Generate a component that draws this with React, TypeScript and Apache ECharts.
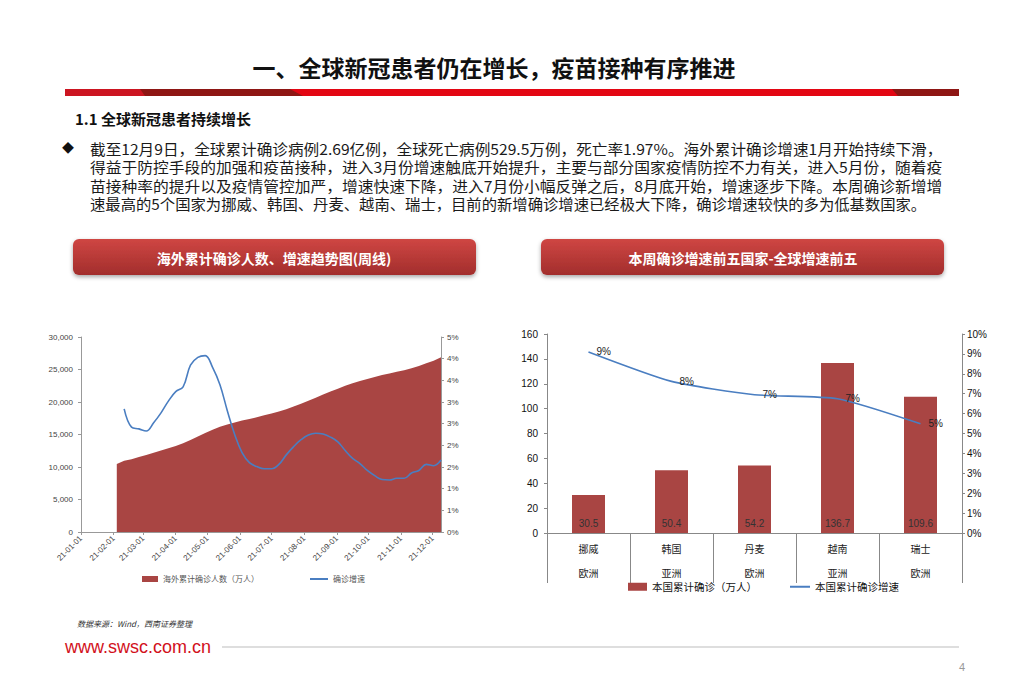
import React, { useEffect, useRef } from "react";
import * as echarts from "echarts";

// ---------- Data ----------
const weekDates = [
  "2021-02-04", "2021-02-11", "2021-02-18", "2021-02-25", "2021-03-04", "2021-03-11", "2021-03-18", "2021-03-25",
  "2021-04-01", "2021-04-08", "2021-04-15", "2021-04-22", "2021-04-29", "2021-05-06", "2021-05-13", "2021-05-20",
  "2021-05-27", "2021-06-03", "2021-06-10", "2021-06-17", "2021-06-24", "2021-07-01", "2021-07-08", "2021-07-15",
  "2021-07-22", "2021-07-29", "2021-08-05", "2021-08-12", "2021-08-19", "2021-08-26", "2021-09-02", "2021-09-09",
  "2021-09-16", "2021-09-23", "2021-09-30", "2021-10-07", "2021-10-14", "2021-10-21", "2021-10-28", "2021-11-04",
  "2021-11-11", "2021-11-18", "2021-11-25", "2021-12-02", "2021-12-09",
];
// 海外累计确诊人数（万人）
const overseasCumulative = [
  10450, 10950, 11200, 11550, 11850, 12200, 12550, 12900, 13250, 13650, 14150, 14700, 15250, 15750, 16200, 16550,
  16850, 17150, 17400, 17650, 17950, 18250, 18550, 18900, 19300, 19750, 20200, 20650, 21150, 21600, 22050, 22500,
  22900, 23250, 23550, 23850, 24150, 24400, 24650, 24900, 25200, 25550, 25950, 26350, 26900,
];
// 确诊增速 (%)
const overseasGrowth = [
  null, 2.84, 2.42, 2.38, 2.33, 2.52, 2.75, 3.02, 3.24, 3.35, 3.85, 4.03, 4.07, 3.8, 3.4, 2.8,
  2.25, 1.83, 1.6, 1.51, 1.46, 1.46, 1.56, 1.78, 1.97, 2.13, 2.24, 2.28, 2.26, 2.19, 2.08, 1.88,
  1.7, 1.58, 1.42, 1.3, 1.21, 1.2, 1.24, 1.24, 1.36, 1.42, 1.56, 1.53, 1.66,
];

const countries = ["挪威", "韩国", "丹麦", "越南", "瑞士"];
const regions = ["欧洲", "亚洲", "欧洲", "亚洲", "欧洲"];
const countryCumulative = [30.5, 50.4, 54.2, 136.7, 109.6];
const countryGrowth = [9.1, 7.62, 6.95, 6.75, 5.49];

const pageTitle = "一、全球新冠患者仍在增长，疫苗接种有序推进";
const sectionTitle = "1.1 全球新冠患者持续增长";
const paragraphLines = [
  "截至12月9日，全球累计确诊病例2.69亿例，全球死亡病例529.5万例，死亡率1.97%。海外累计确诊增速1月开始持续下滑，",
  "得益于防控手段的加强和疫苗接种，进入3月份增速触底开始提升，主要与部分国家疫情防控不力有关，进入5月份，随着疫",
  "苗接种率的提升以及疫情管控加严，增速快速下降，进入7月份小幅反弹之后，8月底开始，增速逐步下降。本周确诊新增增",
  "速最高的5个国家为挪威、韩国、丹麦、越南、瑞士，目前的新增确诊增速已经极大下降，确诊增速较快的多为低基数国家。",
];
const paragraphWidths = [853, 853, 853, 837];
const leftButtonText = "海外累计确诊人数、增速趋势图(周线)";
const rightButtonText = "本周确诊增速前五国家-全球增速前五";
const sourceText = "数据来源：Wind，西南证券整理";
const siteText = "www.swsc.com.cn";
const pageNumber = "4";

const leftLegend = ["海外累计确诊人数（万人）", "确诊增速"];
const rightLegend = ["本国累计确诊（万人）", "本国累计确诊增速"];

// ---------- Styles ----------
const CJK = '"Noto Sans CJK SC", "Noto Sans", sans-serif';
const LAT = '"Liberation Sans", Arial, "Noto Sans CJK SC", sans-serif';
const BAR_RED = "#A94543";
const LINE_BLUE = "#4A7EC1";
const PARA_FONT = `15px ${CJK}`;

function pad2(n: number) {
  return n < 10 ? "0" + n : "" + n;
}

function measure(text: string, font: string): number {
  try {
    const ctx = document.createElement("canvas").getContext("2d");
    if (!ctx) return 0;
    ctx.font = font;
    return ctx.measureText(text).width;
  } catch (e) {
    return 0;
  }
}

export default function App() {
  const ref = useRef<HTMLDivElement>(null);

  useEffect(() => {
    document.body.style.margin = "0";
    if (!ref.current) return;
    const chart = echarts.init(ref.current, undefined, { renderer: "svg" });

    const buttonFill = () =>
      new echarts.graphic.LinearGradient(0, 0, 0, 1, [
        { offset: 0, color: "#CF4643" },
        { offset: 1, color: "#A22E2C" },
      ]);

    const graphics: any[] = [
      {
        type: "text",
        x: 494,
        y: 67,
        style: {
          text: pageTitle,
          fill: "#111",
          font: `bold 23px ${CJK}`,
          textAlign: "center",
          textVerticalAlign: "middle",
        },
      },
      { type: "rect", shape: { x: 65, y: 89, width: 894, height: 7 }, style: { fill: "#E30613" } },
      { type: "rect", shape: { x: 65, y: 89, width: 80, height: 7 }, style: { fill: "#CC1521" } },
      {
        type: "polygon",
        shape: { points: [[140, 89], [290, 89], [303, 96], [145, 96]] },
        style: { fill: "#8E1614" },
      },
      {
        type: "polygon",
        shape: { points: [[892, 89], [959, 89], [959, 96], [898, 96]] },
        style: { fill: "#8E1614" },
      },
      {
        type: "text",
        x: 75,
        y: 118,
        style: { text: sectionTitle, fill: "#111", font: `bold 15px ${CJK}`, textVerticalAlign: "middle" },
      },
      {
        type: "text",
        x: 62,
        y: 147,
        style: { text: "◆", fill: "#111", font: `12px ${CJK}`, textVerticalAlign: "middle" },
      },
      ...paragraphLines.map((t, i) => {
        const w = measure(t, PARA_FONT);
        const s = w > 0 ? paragraphWidths[i] / w : 1;
        return {
          type: "text",
          x: 90,
          y: 148 + i * 18.5,
          scaleX: s,
          style: { text: t, fill: "#1a1a1a", font: PARA_FONT, lineHeight: 17, textVerticalAlign: "middle" },
        };
      }),
      {
        type: "rect",
        shape: { x: 73, y: 239, width: 403, height: 36, r: 6 },
        style: { fill: buttonFill(), shadowBlur: 4, shadowOffsetY: 2, shadowColor: "rgba(0,0,0,0.35)" },
      },
      {
        type: "text",
        x: 274,
        y: 258,
        style: { text: leftButtonText, fill: "#fff", font: `bold 14px ${CJK}`, textAlign: "center", textVerticalAlign: "middle" },
      },
      {
        type: "rect",
        shape: { x: 541, y: 239, width: 403, height: 36, r: 6 },
        style: { fill: buttonFill(), shadowBlur: 4, shadowOffsetY: 2, shadowColor: "rgba(0,0,0,0.35)" },
      },
      {
        type: "text",
        x: 743,
        y: 258,
        style: { text: rightButtonText, fill: "#fff", font: `bold 14px ${CJK}`, textAlign: "center", textVerticalAlign: "middle" },
      },
      {
        type: "text",
        x: 77,
        y: 623,
        style: { text: sourceText, fill: "#333", font: `italic 8px ${CJK}`, textVerticalAlign: "middle" },
      },
      {
        type: "text",
        x: 65,
        y: 647,
        style: { text: siteText, fill: "#D2101C", font: `18px "Liberation Sans", Arial, sans-serif`, textVerticalAlign: "middle" },
      },
      { type: "line", shape: { x1: 222, y1: 647, x2: 959, y2: 647 }, style: { stroke: "#BDBDBD", lineWidth: 1 } },
      {
        type: "text",
        x: 962,
        y: 667,
        style: { text: pageNumber, fill: "#999", font: `11px ${LAT}`, textAlign: "center", textVerticalAlign: "middle" },
      },
    ];

    const option: any = {
      animation: false,
      backgroundColor: "#fff",
      graphic: { elements: graphics },
      grid: [
        { left: 81, top: 337, width: 360, height: 195 },
        { left: 547, top: 334, width: 415, height: 199 },
      ],
      legend: [
        {
          data: [{ name: leftLegend[0], icon: "rect" }],
          left: 142,
          top: 575,
          padding: 0,
          itemWidth: 16,
          itemHeight: 6,
          textStyle: { fontSize: 8, color: "#555", fontFamily: CJK },
        },
        {
          data: [{ name: leftLegend[1], icon: "rect" }],
          left: 310,
          top: 575,
          padding: 0,
          itemWidth: 18,
          itemHeight: 2,
          textStyle: { fontSize: 8, color: "#555", fontFamily: CJK },
        },
        {
          data: [{ name: rightLegend[0], icon: "rect" }],
          left: 628,
          top: 581.5,
          padding: 0,
          itemWidth: 19,
          itemHeight: 8,
          textStyle: { fontSize: 10.5, color: "#111", fontFamily: CJK },
        },
        {
          data: [{ name: rightLegend[1], icon: "rect" }],
          left: 790,
          top: 581.5,
          padding: 0,
          itemWidth: 20,
          itemHeight: 2,
          textStyle: { fontSize: 10.5, color: "#111", fontFamily: CJK },
        },
      ],
      xAxis: [
        {
          type: "time",
          gridIndex: 0,
          min: "2021-01-01",
          max: "2021-12-09",
          splitNumber: 12,
          minInterval: 28 * 86400000,
          maxInterval: 31 * 86400000,
          axisLine: { lineStyle: { color: "#999" } },
          axisTick: { show: true, length: 3, lineStyle: { color: "#999" } },
          splitLine: { show: false },
          axisLabel: {
            rotate: 45,
            fontSize: 8,
            color: "#444",
            fontFamily: LAT,
            margin: 5,
            showMaxLabel: false,
            formatter: (v: number) => {
              const d = new Date(v);
              return `${pad2(d.getFullYear() % 100)}-${pad2(d.getMonth() + 1)}-${pad2(d.getDate())}`;
            },
          },
        },
        {
          type: "category",
          gridIndex: 1,
          data: countries.map((c, i) => `${c}\n${regions[i]}`),
          axisLine: { lineStyle: { color: "#888" } },
          axisTick: { show: true, interval: 0, length: 50, lineStyle: { color: "#888" } },
          axisLabel: { interval: 0, fontSize: 10, lineHeight: 24, margin: 3, color: "#222", fontFamily: CJK },
        },
      ],
      yAxis: [
        {
          type: "value",
          gridIndex: 0,
          min: 0,
          max: 30000,
          interval: 5000,
          axisLine: { show: true, lineStyle: { color: "#999" } },
          axisTick: { show: true, length: 3, lineStyle: { color: "#999" } },
          splitLine: { show: false },
          axisLabel: {
            fontSize: 8,
            color: "#444",
            fontFamily: LAT,
            margin: 8,
            formatter: (v: number) => v.toLocaleString("en-US"),
          },
        },
        {
          type: "value",
          gridIndex: 0,
          position: "right",
          min: 0,
          max: 4.5,
          interval: 0.5,
          axisLine: { show: true, lineStyle: { color: "#999" } },
          axisTick: { show: true, length: 3, lineStyle: { color: "#999" } },
          splitLine: { show: false },
          axisLabel: { fontSize: 8, color: "#444", fontFamily: LAT, margin: 6, formatter: (v: number) => Math.round(v) + "%" },
        },
        {
          type: "value",
          gridIndex: 1,
          min: 0,
          max: 160,
          interval: 20,
          axisLine: { show: true, lineStyle: { color: "#888" } },
          axisTick: { show: true, length: 3, lineStyle: { color: "#888" } },
          splitLine: { show: false },
          axisLabel: { fontSize: 10, color: "#111", fontFamily: LAT, margin: 9 },
        },
        {
          type: "value",
          gridIndex: 1,
          position: "right",
          min: 0,
          max: 10,
          interval: 1,
          axisLine: { show: true, lineStyle: { color: "#888" } },
          axisTick: { show: true, length: 3, lineStyle: { color: "#888" } },
          splitLine: { show: false },
          axisLabel: { fontSize: 10, color: "#111", fontFamily: LAT, margin: 5, formatter: (v: number) => v + "%" },
        },
      ],
      series: [
        {
          name: leftLegend[0],
          type: "line",
          xAxisIndex: 0,
          yAxisIndex: 0,
          data: weekDates.map((d, i) => [d, overseasCumulative[i]]),
          symbol: "none",
          lineStyle: { width: 0, color: BAR_RED },
          itemStyle: { color: BAR_RED },
          areaStyle: { color: BAR_RED, opacity: 1 },
          z: 1,
        },
        {
          name: leftLegend[1],
          type: "line",
          xAxisIndex: 0,
          yAxisIndex: 1,
          data: weekDates.map((d, i) => [d, overseasGrowth[i]]),
          symbol: "none",
          smooth: 0.4,
          lineStyle: { width: 1.6, color: LINE_BLUE },
          itemStyle: { color: LINE_BLUE },
          z: 3,
        },
        {
          name: rightLegend[0],
          type: "bar",
          xAxisIndex: 1,
          yAxisIndex: 2,
          data: countryCumulative,
          barWidth: 33,
          itemStyle: { color: BAR_RED },
          label: {
            show: true,
            position: "insideBottom",
            distance: 5,
            color: "#333",
            fontSize: 10,
            fontFamily: LAT,
            formatter: (p: any) => Number(p.value).toFixed(1),
          },
        },
        {
          name: rightLegend[1],
          type: "line",
          xAxisIndex: 1,
          yAxisIndex: 3,
          data: countryGrowth,
          symbol: "circle",
          symbolSize: 0.1,
          smooth: 0.2,
          lineStyle: { width: 1.6, color: LINE_BLUE },
          itemStyle: { color: LINE_BLUE },
          label: {
            show: true,
            position: "right",
            distance: 8,
            color: "#222",
            fontSize: 10,
            fontFamily: LAT,
            formatter: (p: any) => Math.round(Number(p.value)) + "%",
          },
          z: 3,
        },
      ],
    };

    chart.setOption(option);
    return () => chart.dispose();
  }, []);

  return <div ref={ref} style={{ width: 1024, height: 697 }} />;
}
